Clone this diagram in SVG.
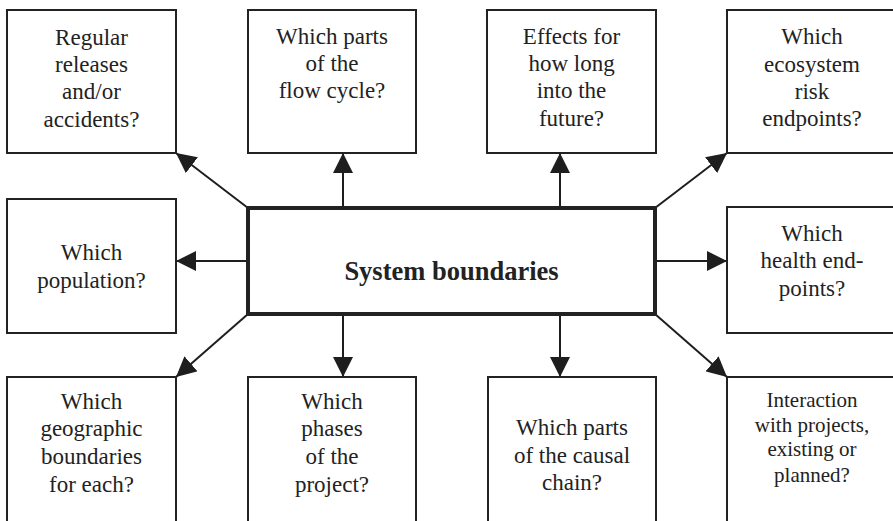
<svg xmlns="http://www.w3.org/2000/svg" width="893" height="521" viewBox="0 0 893 521">
<defs>
<marker id="ah" viewBox="0 0 20 20" refX="20" refY="10" markerWidth="20" markerHeight="20" markerUnits="userSpaceOnUse" orient="auto">
<path d="M0,0 L20,10 L0,20 Z" fill="#1e1e1e"/>
</marker>
</defs>
<style>
.box{fill:#fff;stroke:#222;stroke-width:2}
.main{fill:#fff;stroke:#222;stroke-width:4}
text{font-family:'Liberation Serif','DejaVu Serif',serif;font-size:23px;fill:#222;text-anchor:middle}
.s{font-size:21px}
.b{font-weight:bold;font-size:26.5px}
.c line{stroke:#1e1e1e;stroke-width:2;marker-end:url(#ah)}
</style>
<rect width="893" height="521" fill="#fff"/>
<g class="c" id="connectors">
<line x1="248" y1="208" x2="176" y2="153"/>
<line x1="343" y1="208" x2="343" y2="153"/>
<line x1="560" y1="208" x2="560" y2="153"/>
<line x1="655" y1="208" x2="727" y2="153"/>
<line x1="248" y1="261" x2="176" y2="261"/>
<line x1="655" y1="261" x2="727" y2="261"/>
<line x1="248" y1="314" x2="176" y2="377"/>
<line x1="343" y1="314" x2="343" y2="377"/>
<line x1="560" y1="314" x2="560" y2="377"/>
<line x1="655" y1="314" x2="727" y2="377"/>
</g>
<g font-family="Liberation Serif, DejaVu Serif, serif">
<g id="center">
<rect class="main" x="248" y="208" width="407" height="106"/>
<text class="b" x="451.5" y="280">System boundaries</text>
</g>
<g id="n1">
<rect class="box" x="7" y="10" width="169" height="143"/>
<text x="91.5" y="45">Regular</text>
<text x="91.5" y="72">releases</text>
<text x="91.5" y="99">and/or</text>
<text x="91.5" y="127">accidents?</text>
</g>
<g id="n2">
<rect class="box" x="248" y="10" width="168" height="143"/>
<text x="332" y="44">Which parts</text>
<text x="332" y="71">of the</text>
<text x="332" y="98">flow cycle?</text>
</g>
<g id="n3">
<rect class="box" x="487" y="10" width="169" height="143"/>
<text x="571.5" y="44">Effects for</text>
<text x="571.5" y="71">how long</text>
<text x="571.5" y="98">into the</text>
<text x="571.5" y="126">future?</text>
</g>
<g id="n4">
<rect class="box" x="727" y="10" width="170" height="143"/>
<text x="812" y="44">Which</text>
<text x="812" y="72">ecosystem</text>
<text x="812" y="99">risk</text>
<text x="812" y="126">endpoints?</text>
</g>
<g id="n5">
<rect class="box" x="7" y="199" width="169" height="134"/>
<text x="91.5" y="260">Which</text>
<text x="91.5" y="288">population?</text>
</g>
<g id="n6">
<rect class="box" x="727" y="207" width="170" height="126"/>
<text x="812" y="241">Which</text>
<text x="812" y="268">health end-</text>
<text x="812" y="296">points?</text>
</g>
<g id="n7">
<rect class="box" x="7" y="377" width="169" height="150"/>
<text x="91.5" y="409">Which</text>
<text x="91.5" y="436">geographic</text>
<text x="91.5" y="464">boundaries</text>
<text x="91.5" y="492">for each?</text>
</g>
<g id="n8">
<rect class="box" x="248" y="377" width="168" height="150"/>
<text x="332" y="409">Which</text>
<text x="332" y="436">phases</text>
<text x="332" y="464">of the</text>
<text x="332" y="492">project?</text>
</g>
<g id="n9">
<rect class="box" x="488" y="377" width="168" height="150"/>
<text x="572" y="435">Which parts</text>
<text x="572" y="463">of the causal</text>
<text x="572" y="490">chain?</text>
</g>
<g id="n10">
<rect class="box" x="727" y="377" width="170" height="150"/>
<text class="s" x="812" y="407">Interaction</text>
<text class="s" x="812" y="432">with projects,</text>
<text class="s" x="812" y="456">existing or</text>
<text class="s" x="812" y="482">planned?</text>
</g>
</g>
</svg>
